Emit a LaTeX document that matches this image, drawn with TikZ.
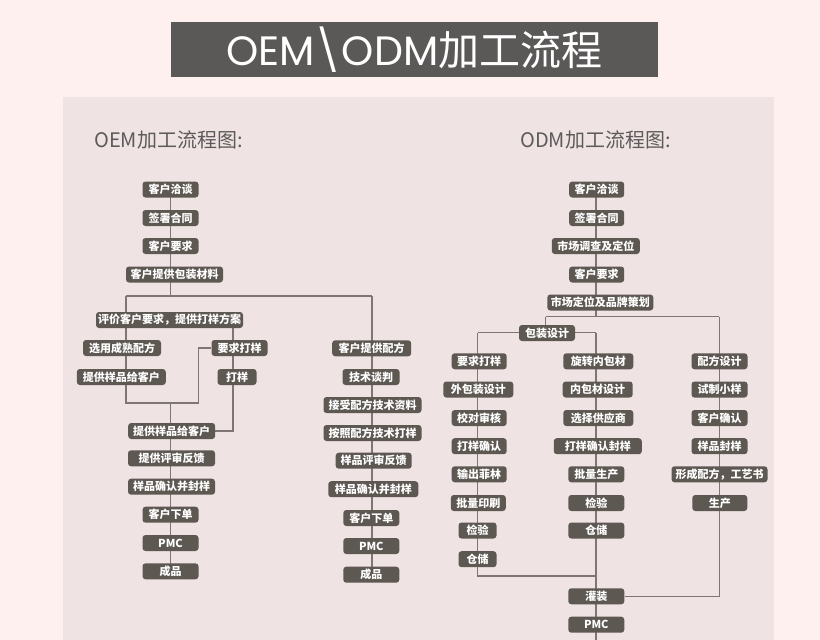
\documentclass[tikz,border=0pt]{standalone}
\usepackage{fontspec}
\setmainfont{Noto Sans CJK SC}
\newfontfamily\cjkfont{Noto Sans CJK SC}
\newfontfamily\poppfont{Poppins}
\pgfdeclarelayer{back}
\pgfdeclarelayer{mid}
\pgfsetlayers{back,mid,main}
\definecolor{outerbg}{HTML}{FDF0EF}
\definecolor{panelbg}{HTML}{F0E3E3}
\definecolor{titlebg}{HTML}{5B5858}
\definecolor{boxc}{HTML}{5E5853}
\definecolor{linec}{HTML}{7E7672}
\definecolor{hdrc}{HTML}{5C5A5A}
\newcommand\bx[5]{\node[box,minimum width=#4pt] (#1) at (#2,#3) {#5};}
\begin{document}
\begin{tikzpicture}[x=1pt,y=-1pt,
  box/.style={fill=boxc, rounded corners=3pt, text=white, inner sep=0pt,
    minimum height=16pt, font=\fontsize{11}{12}\selectfont\bfseries},
  ln/.style={draw=linec, line width=1.2pt},
  hdr/.style={anchor=west, text=hdrc, inner sep=0pt, font=\fontsize{20}{23}\selectfont}]
\useasboundingbox (0,0) rectangle (820,640);
\begin{pgfonlayer}{back}
\fill[outerbg] (0,0) rectangle (820,640);
\fill[panelbg] (63,97) rectangle (773.5,640);
\end{pgfonlayer}
\node[fill=titlebg, minimum width=486.7pt, minimum height=55pt, inner sep=0pt,
  text=white, font=\fontsize{41}{48}\selectfont] (title) at (414.3,49.8)
  {{\poppfont OEM\textbackslash ODM}{\cjkfont 加工流程}};
\node[hdr] (h1) at (94,140) {OEM加工流程图:};
\node[hdr] (h2) at (520,140) {ODM加工流程图:};
% OEM left
\bx{a1}{170.5}{189.5}{56}{客户洽谈}
\bx{a2}{170.5}{218}{56}{签署合同}
\bx{a3}{170.5}{246}{56}{客户要求}
\bx{a4}{174.5}{274.5}{97}{客户提供包装材料}
\bx{a5}{169.5}{320}{147}{评价客户要求，提供打样方案}
\bx{b1}{122}{348}{78}{选用成熟配方}
\bx{b2}{121.3}{377}{89}{提供样品给客户}
\bx{c1}{239.5}{348}{56}{要求打样}
\bx{c2}{237}{377}{39}{打样}
\bx{a6}{171.7}{431}{87}{提供样品给客户}
\bx{a7}{171.5}{458.3}{87}{提供评审反馈}
\bx{a8}{171.5}{486.7}{87}{样品确认并封样}
\bx{a9}{170.5}{514.7}{56}{客户下单}
\bx{a10}{170.5}{543}{56}{PMC}
\bx{a11}{170.5}{571.3}{56}{成品}
% OEM right
\bx{d1}{371.7}{348.3}{79}{客户提供配方}
\bx{d2}{371}{377}{57}{技术谈判}
\bx{d3}{372.5}{405}{98}{接受配方技术资料}
\bx{d4}{372.5}{433}{98}{按照配方技术打样}
\bx{d5}{373.7}{460.7}{76}{样品评审反馈}
\bx{d6}{373.3}{489.2}{90}{样品确认并封样}
\bx{d7}{371.3}{518}{56}{客户下单}
\bx{d8}{371.3}{546}{56}{PMC}
\bx{d9}{371.3}{574.7}{56}{成品}
% ODM main
\bx{m1}{596.7}{189.5}{55}{客户洽谈}
\bx{m2}{596.7}{218}{55}{签署合同}
\bx{m3}{595.8}{246}{88}{市场调查及定位}
\bx{m4}{596.7}{274.5}{55}{客户要求}
\bx{m5}{600.3}{302.5}{106}{市场定位及品牌策划}
\bx{p0}{547}{333}{56}{包装设计}
% ODM left
\bx{p1}{479.2}{361.3}{55}{要求打样}
\bx{p2}{478.3}{389.5}{70}{外包装设计}
\bx{p3}{479.2}{418}{55}{校对审核}
\bx{p4}{479.2}{446.2}{55}{打样确认}
\bx{p5}{479.2}{474.3}{55}{输出菲林}
\bx{p6}{478.3}{503}{55}{批量印刷}
\bx{p7}{477.5}{530.5}{38}{检验}
\bx{p8}{477.5}{559.2}{38}{仓储}
% ODM middle
\bx{q1}{598.3}{361.3}{70}{旋转内包材}
\bx{q2}{597.7}{389.5}{70}{内包材设计}
\bx{q3}{598.3}{418}{70}{选择供应商}
\bx{q4}{597.8}{446.2}{88}{打样确认封样}
\bx{q5}{596.3}{474.3}{56}{批量生产}
\bx{q6}{596.3}{503}{56}{检验}
\bx{q7}{596.3}{530.5}{56}{仓储}
\bx{q8}{596.3}{596.3}{56}{灌装}
\bx{q9}{596.3}{624.7}{56}{PMC}
% ODM right
\bx{r1}{719.5}{361.3}{56}{配方设计}
\bx{r2}{719.5}{389.5}{56}{试制小样}
\bx{r3}{719.5}{418}{56}{客户确认}
\bx{r4}{719.5}{446.2}{56}{样品封样}
\bx{r5}{719.5}{474.3}{96}{形成配方，工艺书}
\bx{r6}{719.8}{503}{55}{生产}
% junction coordinates
\coordinate (jm) at (170.5,296);
\coordinate (jl) at (126,296);
\coordinate (jr) at (372,296);
\coordinate (k1) at (126,403);
\coordinate (k2) at (198.5,403);
\coordinate (k3) at (170.5,403);
\coordinate (u1) at (233,328);
\coordinate (u2) at (233,431);
\coordinate (n1) at (596,316.5);
\coordinate (nl) at (545.7,316.5);
\coordinate (nr) at (719.3,316.5);
\coordinate (o1) at (477.5,332.5);
\coordinate (o2) at (596,332.5);
\coordinate (o3) at (477.5,576);
\coordinate (o4) at (596,576);
\coordinate (o5) at (596,640);
\coordinate (o6) at (719.3,596.3);
\begin{pgfonlayer}{mid}
\draw[ln] (a1.center) -- (jm);
\draw[ln] (jl) -- (jr);
\draw[ln] (jl) -- (k1) -- (k2) -- (k2 |- c1.west) -- (c1.west);
\draw[ln] (k3) -- (a11.center);
\draw[ln] (u1) -- (u2) -- (a6.east);
\draw[ln] (jr) -- (jr |- d9.center);
\draw[ln] (n1 |- m1.center) -- (n1);
\draw[ln] (nl) -- (nr);
\draw[ln] (nl) -- (nl |- p0.north);
\draw[ln] (o1) -- (o2);
\draw[ln] (o1) -- (o3) -- (o4);
\draw[ln] (o2) -- (o5);
\draw[ln] (nr) -- (o6) -- (q8.east);
\end{pgfonlayer}
\end{tikzpicture}
\end{document}
